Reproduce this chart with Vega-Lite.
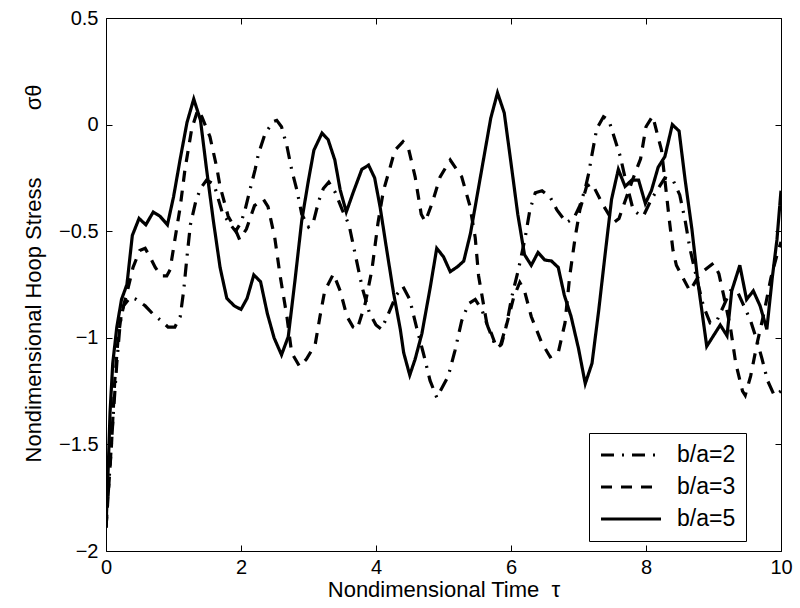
{
"$schema": "https://vega.github.io/schema/vega-lite/v6.json",
"width": 675,
"height": 533,
"autosize": {"type": "none"},
"padding": {"left": 106, "top": 18, "right": 19, "bottom": 57},
"background": "white",
"config": {
  "view": {"stroke": "black", "strokeWidth": 1},
  "font": "Liberation Sans",
  "axis": {"domain": false, "grid": false, "ticks": true, "tickColor": "black", "tickWidth": 1, "tickSize": -6, "labelColor": "black", "labelFont": "Liberation Sans", "labelFontSize": 20, "labelFlush": false, "labelOverlap": false, "titleFont": "Liberation Sans", "titleFontSize": 22, "titleFontWeight": "normal", "titleColor": "black"}
},
"datasets": {
  "curves": [
{"t":0,"v":-1.89,"s":"b/a=5"},{"t":0.035,"v":-1.59,"s":"b/a=5"},{"t":0.06,"v":-1.35,"s":"b/a=5"},{"t":0.1,"v":-1.12,"s":"b/a=5"},{"t":0.16,"v":-0.95,"s":"b/a=5"},{"t":0.23,"v":-0.82,"s":"b/a=5"},{"t":0.31,"v":-0.75,"s":"b/a=5"},{"t":0.39,"v":-0.52,"s":"b/a=5"},{"t":0.49,"v":-0.44,"s":"b/a=5"},{"t":0.59,"v":-0.47,"s":"b/a=5"},{"t":0.7,"v":-0.41,"s":"b/a=5"},{"t":0.8,"v":-0.43,"s":"b/a=5"},{"t":0.91,"v":-0.47,"s":"b/a=5"},{"t":1.0,"v":-0.34,"s":"b/a=5"},{"t":1.1,"v":-0.16,"s":"b/a=5"},{"t":1.2,"v":0.01,"s":"b/a=5"},{"t":1.3,"v":0.12,"s":"b/a=5"},{"t":1.4,"v":0.02,"s":"b/a=5"},{"t":1.49,"v":-0.21,"s":"b/a=5"},{"t":1.59,"v":-0.45,"s":"b/a=5"},{"t":1.69,"v":-0.67,"s":"b/a=5"},{"t":1.79,"v":-0.815,"s":"b/a=5"},{"t":1.9,"v":-0.85,"s":"b/a=5"},{"t":2.0,"v":-0.867,"s":"b/a=5"},{"t":2.09,"v":-0.815,"s":"b/a=5"},{"t":2.19,"v":-0.705,"s":"b/a=5"},{"t":2.29,"v":-0.737,"s":"b/a=5"},{"t":2.39,"v":-0.886,"s":"b/a=5"},{"t":2.49,"v":-1.0,"s":"b/a=5"},{"t":2.6,"v":-1.08,"s":"b/a=5"},{"t":2.7,"v":-0.995,"s":"b/a=5"},{"t":2.8,"v":-0.73,"s":"b/a=5"},{"t":2.9,"v":-0.45,"s":"b/a=5"},{"t":3.0,"v":-0.26,"s":"b/a=5"},{"t":3.08,"v":-0.12,"s":"b/a=5"},{"t":3.2,"v":-0.04,"s":"b/a=5"},{"t":3.29,"v":-0.07,"s":"b/a=5"},{"t":3.39,"v":-0.166,"s":"b/a=5"},{"t":3.47,"v":-0.307,"s":"b/a=5"},{"t":3.56,"v":-0.41,"s":"b/a=5"},{"t":3.66,"v":-0.32,"s":"b/a=5"},{"t":3.79,"v":-0.21,"s":"b/a=5"},{"t":3.89,"v":-0.19,"s":"b/a=5"},{"t":3.98,"v":-0.25,"s":"b/a=5"},{"t":4.06,"v":-0.385,"s":"b/a=5"},{"t":4.16,"v":-0.59,"s":"b/a=5"},{"t":4.26,"v":-0.79,"s":"b/a=5"},{"t":4.36,"v":-0.96,"s":"b/a=5"},{"t":4.41,"v":-1.07,"s":"b/a=5"},{"t":4.5,"v":-1.175,"s":"b/a=5"},{"t":4.58,"v":-1.1,"s":"b/a=5"},{"t":4.68,"v":-0.98,"s":"b/a=5"},{"t":4.8,"v":-0.77,"s":"b/a=5"},{"t":4.9,"v":-0.58,"s":"b/a=5"},{"t":5.0,"v":-0.62,"s":"b/a=5"},{"t":5.1,"v":-0.69,"s":"b/a=5"},{"t":5.21,"v":-0.666,"s":"b/a=5"},{"t":5.3,"v":-0.64,"s":"b/a=5"},{"t":5.4,"v":-0.51,"s":"b/a=5"},{"t":5.5,"v":-0.33,"s":"b/a=5"},{"t":5.6,"v":-0.15,"s":"b/a=5"},{"t":5.7,"v":0.03,"s":"b/a=5"},{"t":5.8,"v":0.149,"s":"b/a=5"},{"t":5.9,"v":0.055,"s":"b/a=5"},{"t":6.0,"v":-0.18,"s":"b/a=5"},{"t":6.1,"v":-0.42,"s":"b/a=5"},{"t":6.2,"v":-0.61,"s":"b/a=5"},{"t":6.3,"v":-0.66,"s":"b/a=5"},{"t":6.4,"v":-0.6,"s":"b/a=5"},{"t":6.5,"v":-0.635,"s":"b/a=5"},{"t":6.6,"v":-0.64,"s":"b/a=5"},{"t":6.7,"v":-0.67,"s":"b/a=5"},{"t":6.79,"v":-0.8,"s":"b/a=5"},{"t":6.89,"v":-0.9,"s":"b/a=5"},{"t":7.0,"v":-1.05,"s":"b/a=5"},{"t":7.1,"v":-1.215,"s":"b/a=5"},{"t":7.2,"v":-1.12,"s":"b/a=5"},{"t":7.3,"v":-0.87,"s":"b/a=5"},{"t":7.39,"v":-0.62,"s":"b/a=5"},{"t":7.49,"v":-0.35,"s":"b/a=5"},{"t":7.59,"v":-0.21,"s":"b/a=5"},{"t":7.69,"v":-0.29,"s":"b/a=5"},{"t":7.79,"v":-0.26,"s":"b/a=5"},{"t":7.89,"v":-0.26,"s":"b/a=5"},{"t":7.99,"v":-0.37,"s":"b/a=5"},{"t":8.08,"v":-0.31,"s":"b/a=5"},{"t":8.18,"v":-0.2,"s":"b/a=5"},{"t":8.28,"v":-0.15,"s":"b/a=5"},{"t":8.39,"v":0.0,"s":"b/a=5"},{"t":8.49,"v":-0.03,"s":"b/a=5"},{"t":8.58,"v":-0.26,"s":"b/a=5"},{"t":8.68,"v":-0.49,"s":"b/a=5"},{"t":8.77,"v":-0.74,"s":"b/a=5"},{"t":8.9,"v":-1.04,"s":"b/a=5"},{"t":9.0,"v":-0.99,"s":"b/a=5"},{"t":9.1,"v":-0.94,"s":"b/a=5"},{"t":9.2,"v":-0.99,"s":"b/a=5"},{"t":9.27,"v":-0.78,"s":"b/a=5"},{"t":9.39,"v":-0.66,"s":"b/a=5"},{"t":9.49,"v":-0.82,"s":"b/a=5"},{"t":9.59,"v":-0.78,"s":"b/a=5"},{"t":9.69,"v":-0.85,"s":"b/a=5"},{"t":9.79,"v":-0.96,"s":"b/a=5"},{"t":9.87,"v":-0.72,"s":"b/a=5"},{"t":9.94,"v":-0.54,"s":"b/a=5"},{"t":10.0,"v":-0.31,"s":"b/a=5"},
{"t":0,"v":-1.89,"s":"b/a=3"},{"t":0.08,"v":-1.51,"s":"b/a=3"},{"t":0.13,"v":-1.2,"s":"b/a=3"},{"t":0.18,"v":-1.0,"s":"b/a=3"},{"t":0.23,"v":-0.885,"s":"b/a=3"},{"t":0.31,"v":-0.79,"s":"b/a=3"},{"t":0.4,"v":-0.67,"s":"b/a=3"},{"t":0.5,"v":-0.59,"s":"b/a=3"},{"t":0.58,"v":-0.58,"s":"b/a=3"},{"t":0.65,"v":-0.62,"s":"b/a=3"},{"t":0.73,"v":-0.67,"s":"b/a=3"},{"t":0.82,"v":-0.71,"s":"b/a=3"},{"t":0.9,"v":-0.71,"s":"b/a=3"},{"t":0.95,"v":-0.68,"s":"b/a=3"},{"t":1.02,"v":-0.54,"s":"b/a=3"},{"t":1.1,"v":-0.385,"s":"b/a=3"},{"t":1.17,"v":-0.21,"s":"b/a=3"},{"t":1.27,"v":-0.02,"s":"b/a=3"},{"t":1.36,"v":0.07,"s":"b/a=3"},{"t":1.42,"v":0.037,"s":"b/a=3"},{"t":1.54,"v":-0.057,"s":"b/a=3"},{"t":1.64,"v":-0.2,"s":"b/a=3"},{"t":1.69,"v":-0.29,"s":"b/a=3"},{"t":1.81,"v":-0.43,"s":"b/a=3"},{"t":1.9,"v":-0.48,"s":"b/a=3"},{"t":1.98,"v":-0.54,"s":"b/a=3"},{"t":2.08,"v":-0.49,"s":"b/a=3"},{"t":2.2,"v":-0.38,"s":"b/a=3"},{"t":2.33,"v":-0.35,"s":"b/a=3"},{"t":2.4,"v":-0.385,"s":"b/a=3"},{"t":2.5,"v":-0.53,"s":"b/a=3"},{"t":2.58,"v":-0.71,"s":"b/a=3"},{"t":2.68,"v":-0.9,"s":"b/a=3"},{"t":2.75,"v":-1.07,"s":"b/a=3"},{"t":2.87,"v":-1.135,"s":"b/a=3"},{"t":2.97,"v":-1.1,"s":"b/a=3"},{"t":3.1,"v":-1.03,"s":"b/a=3"},{"t":3.17,"v":-0.9,"s":"b/a=3"},{"t":3.24,"v":-0.78,"s":"b/a=3"},{"t":3.37,"v":-0.7,"s":"b/a=3"},{"t":3.47,"v":-0.78,"s":"b/a=3"},{"t":3.57,"v":-0.9,"s":"b/a=3"},{"t":3.66,"v":-0.95,"s":"b/a=3"},{"t":3.72,"v":-0.96,"s":"b/a=3"},{"t":3.84,"v":-0.84,"s":"b/a=3"},{"t":3.94,"v":-0.68,"s":"b/a=3"},{"t":4.03,"v":-0.46,"s":"b/a=3"},{"t":4.11,"v":-0.31,"s":"b/a=3"},{"t":4.21,"v":-0.2,"s":"b/a=3"},{"t":4.28,"v":-0.12,"s":"b/a=3"},{"t":4.4,"v":-0.08,"s":"b/a=3"},{"t":4.48,"v":-0.11,"s":"b/a=3"},{"t":4.58,"v":-0.245,"s":"b/a=3"},{"t":4.67,"v":-0.42,"s":"b/a=3"},{"t":4.73,"v":-0.455,"s":"b/a=3"},{"t":4.83,"v":-0.37,"s":"b/a=3"},{"t":4.95,"v":-0.245,"s":"b/a=3"},{"t":5.1,"v":-0.166,"s":"b/a=3"},{"t":5.27,"v":-0.245,"s":"b/a=3"},{"t":5.39,"v":-0.38,"s":"b/a=3"},{"t":5.47,"v":-0.53,"s":"b/a=3"},{"t":5.52,"v":-0.71,"s":"b/a=3"},{"t":5.64,"v":-0.93,"s":"b/a=3"},{"t":5.71,"v":-0.98,"s":"b/a=3"},{"t":5.79,"v":-1.05,"s":"b/a=3"},{"t":5.86,"v":-1.03,"s":"b/a=3"},{"t":5.95,"v":-0.92,"s":"b/a=3"},{"t":6.04,"v":-0.81,"s":"b/a=3"},{"t":6.13,"v":-0.74,"s":"b/a=3"},{"t":6.2,"v":-0.78,"s":"b/a=3"},{"t":6.3,"v":-0.9,"s":"b/a=3"},{"t":6.45,"v":-1.02,"s":"b/a=3"},{"t":6.58,"v":-1.09,"s":"b/a=3"},{"t":6.7,"v":-1.07,"s":"b/a=3"},{"t":6.8,"v":-0.93,"s":"b/a=3"},{"t":6.87,"v":-0.71,"s":"b/a=3"},{"t":6.95,"v":-0.53,"s":"b/a=3"},{"t":7.02,"v":-0.4,"s":"b/a=3"},{"t":7.12,"v":-0.29,"s":"b/a=3"},{"t":7.2,"v":-0.276,"s":"b/a=3"},{"t":7.37,"v":-0.38,"s":"b/a=3"},{"t":7.52,"v":-0.46,"s":"b/a=3"},{"t":7.6,"v":-0.44,"s":"b/a=3"},{"t":7.7,"v":-0.35,"s":"b/a=3"},{"t":7.8,"v":-0.26,"s":"b/a=3"},{"t":7.92,"v":-0.16,"s":"b/a=3"},{"t":8.0,"v":-0.01,"s":"b/a=3"},{"t":8.1,"v":0.04,"s":"b/a=3"},{"t":8.18,"v":-0.06,"s":"b/a=3"},{"t":8.23,"v":-0.12,"s":"b/a=3"},{"t":8.28,"v":-0.26,"s":"b/a=3"},{"t":8.35,"v":-0.46,"s":"b/a=3"},{"t":8.4,"v":-0.59,"s":"b/a=3"},{"t":8.45,"v":-0.66,"s":"b/a=3"},{"t":8.55,"v":-0.72,"s":"b/a=3"},{"t":8.65,"v":-0.78,"s":"b/a=3"},{"t":8.8,"v":-0.7,"s":"b/a=3"},{"t":9.0,"v":-0.65,"s":"b/a=3"},{"t":9.08,"v":-0.7,"s":"b/a=3"},{"t":9.15,"v":-0.8,"s":"b/a=3"},{"t":9.25,"v":-0.95,"s":"b/a=3"},{"t":9.33,"v":-1.12,"s":"b/a=3"},{"t":9.43,"v":-1.25,"s":"b/a=3"},{"t":9.47,"v":-1.27,"s":"b/a=3"},{"t":9.55,"v":-1.18,"s":"b/a=3"},{"t":9.65,"v":-1.02,"s":"b/a=3"},{"t":9.75,"v":-0.88,"s":"b/a=3"},{"t":9.85,"v":-0.72,"s":"b/a=3"},{"t":9.95,"v":-0.6,"s":"b/a=3"},{"t":10.0,"v":-0.55,"s":"b/a=3"},
{"t":0,"v":-1.89,"s":"b/a=2"},{"t":0.06,"v":-1.6,"s":"b/a=2"},{"t":0.11,"v":-1.35,"s":"b/a=2"},{"t":0.16,"v":-1.12,"s":"b/a=2"},{"t":0.21,"v":-0.93,"s":"b/a=2"},{"t":0.26,"v":-0.85,"s":"b/a=2"},{"t":0.36,"v":-0.81,"s":"b/a=2"},{"t":0.45,"v":-0.82,"s":"b/a=2"},{"t":0.58,"v":-0.85,"s":"b/a=2"},{"t":0.7,"v":-0.89,"s":"b/a=2"},{"t":0.82,"v":-0.92,"s":"b/a=2"},{"t":0.92,"v":-0.95,"s":"b/a=2"},{"t":1.02,"v":-0.95,"s":"b/a=2"},{"t":1.1,"v":-0.9,"s":"b/a=2"},{"t":1.15,"v":-0.78,"s":"b/a=2"},{"t":1.2,"v":-0.62,"s":"b/a=2"},{"t":1.25,"v":-0.47,"s":"b/a=2"},{"t":1.33,"v":-0.36,"s":"b/a=2"},{"t":1.4,"v":-0.3,"s":"b/a=2"},{"t":1.49,"v":-0.26,"s":"b/a=2"},{"t":1.6,"v":-0.28,"s":"b/a=2"},{"t":1.72,"v":-0.41,"s":"b/a=2"},{"t":1.82,"v":-0.46,"s":"b/a=2"},{"t":1.92,"v":-0.5,"s":"b/a=2"},{"t":2.0,"v":-0.46,"s":"b/a=2"},{"t":2.06,"v":-0.4,"s":"b/a=2"},{"t":2.13,"v":-0.31,"s":"b/a=2"},{"t":2.21,"v":-0.21,"s":"b/a=2"},{"t":2.26,"v":-0.135,"s":"b/a=2"},{"t":2.36,"v":-0.04,"s":"b/a=2"},{"t":2.48,"v":0.014,"s":"b/a=2"},{"t":2.53,"v":0.02,"s":"b/a=2"},{"t":2.6,"v":-0.01,"s":"b/a=2"},{"t":2.68,"v":-0.1,"s":"b/a=2"},{"t":2.75,"v":-0.21,"s":"b/a=2"},{"t":2.83,"v":-0.31,"s":"b/a=2"},{"t":2.9,"v":-0.42,"s":"b/a=2"},{"t":3.0,"v":-0.48,"s":"b/a=2"},{"t":3.07,"v":-0.46,"s":"b/a=2"},{"t":3.15,"v":-0.36,"s":"b/a=2"},{"t":3.22,"v":-0.3,"s":"b/a=2"},{"t":3.3,"v":-0.27,"s":"b/a=2"},{"t":3.4,"v":-0.32,"s":"b/a=2"},{"t":3.5,"v":-0.4,"s":"b/a=2"},{"t":3.6,"v":-0.47,"s":"b/a=2"},{"t":3.7,"v":-0.62,"s":"b/a=2"},{"t":3.8,"v":-0.77,"s":"b/a=2"},{"t":3.9,"v":-0.88,"s":"b/a=2"},{"t":4.0,"v":-0.94,"s":"b/a=2"},{"t":4.08,"v":-0.96,"s":"b/a=2"},{"t":4.18,"v":-0.89,"s":"b/a=2"},{"t":4.3,"v":-0.8,"s":"b/a=2"},{"t":4.4,"v":-0.76,"s":"b/a=2"},{"t":4.5,"v":-0.82,"s":"b/a=2"},{"t":4.6,"v":-0.95,"s":"b/a=2"},{"t":4.7,"v":-1.07,"s":"b/a=2"},{"t":4.8,"v":-1.2,"s":"b/a=2"},{"t":4.9,"v":-1.28,"s":"b/a=2"},{"t":5.07,"v":-1.18,"s":"b/a=2"},{"t":5.17,"v":-1.06,"s":"b/a=2"},{"t":5.27,"v":-0.92,"s":"b/a=2"},{"t":5.37,"v":-0.84,"s":"b/a=2"},{"t":5.47,"v":-0.82,"s":"b/a=2"},{"t":5.57,"v":-0.87,"s":"b/a=2"},{"t":5.66,"v":-0.95,"s":"b/a=2"},{"t":5.76,"v":-1.03,"s":"b/a=2"},{"t":5.84,"v":-1.04,"s":"b/a=2"},{"t":5.94,"v":-0.93,"s":"b/a=2"},{"t":6.01,"v":-0.81,"s":"b/a=2"},{"t":6.11,"v":-0.68,"s":"b/a=2"},{"t":6.21,"v":-0.53,"s":"b/a=2"},{"t":6.28,"v":-0.4,"s":"b/a=2"},{"t":6.36,"v":-0.32,"s":"b/a=2"},{"t":6.46,"v":-0.31,"s":"b/a=2"},{"t":6.58,"v":-0.34,"s":"b/a=2"},{"t":6.68,"v":-0.4,"s":"b/a=2"},{"t":6.75,"v":-0.43,"s":"b/a=2"},{"t":6.82,"v":-0.46,"s":"b/a=2"},{"t":6.93,"v":-0.44,"s":"b/a=2"},{"t":7.02,"v":-0.38,"s":"b/a=2"},{"t":7.1,"v":-0.3,"s":"b/a=2"},{"t":7.15,"v":-0.23,"s":"b/a=2"},{"t":7.2,"v":-0.14,"s":"b/a=2"},{"t":7.27,"v":-0.02,"s":"b/a=2"},{"t":7.37,"v":0.037,"s":"b/a=2"},{"t":7.45,"v":0.02,"s":"b/a=2"},{"t":7.5,"v":-0.03,"s":"b/a=2"},{"t":7.57,"v":-0.1,"s":"b/a=2"},{"t":7.62,"v":-0.15,"s":"b/a=2"},{"t":7.69,"v":-0.25,"s":"b/a=2"},{"t":7.81,"v":-0.4,"s":"b/a=2"},{"t":7.89,"v":-0.42,"s":"b/a=2"},{"t":7.96,"v":-0.43,"s":"b/a=2"},{"t":8.08,"v":-0.35,"s":"b/a=2"},{"t":8.16,"v":-0.31,"s":"b/a=2"},{"t":8.28,"v":-0.25,"s":"b/a=2"},{"t":8.4,"v":-0.26,"s":"b/a=2"},{"t":8.5,"v":-0.33,"s":"b/a=2"},{"t":8.58,"v":-0.45,"s":"b/a=2"},{"t":8.65,"v":-0.58,"s":"b/a=2"},{"t":8.75,"v":-0.72,"s":"b/a=2"},{"t":8.85,"v":-0.85,"s":"b/a=2"},{"t":8.95,"v":-0.93,"s":"b/a=2"},{"t":9.05,"v":-0.92,"s":"b/a=2"},{"t":9.15,"v":-0.85,"s":"b/a=2"},{"t":9.25,"v":-0.78,"s":"b/a=2"},{"t":9.35,"v":-0.78,"s":"b/a=2"},{"t":9.45,"v":-0.85,"s":"b/a=2"},{"t":9.55,"v":-0.92,"s":"b/a=2"},{"t":9.65,"v":-1.02,"s":"b/a=2"},{"t":9.72,"v":-1.1,"s":"b/a=2"},{"t":9.8,"v":-1.2,"s":"b/a=2"},{"t":9.9,"v":-1.27,"s":"b/a=2"},{"t":10.0,"v":-1.25,"s":"b/a=2"}
  ]
},
"data": {"name": "curves"},
"layer": [
  {
    "mark": {"type": "line", "strokeWidth": 3.2, "color": "black", "strokeCap": "butt", "strokeJoin": "miter", "clip": true},
    "encoding": {
      "x": {"field": "t", "type": "quantitative", "scale": {"domain": [0, 10], "nice": false, "zero": false},
            "axis": {"orient": "bottom", "values": [0, 2, 4, 6, 8, 10], "format": "d", "labelPadding": 12, "title": "Nondimensional Time\u00a0\u00a0τ", "titlePadding": 2}},
      "y": {"field": "v", "type": "quantitative", "scale": {"domain": [-2, 0.5], "nice": false, "zero": false},
            "axis": {"orient": "left", "values": [-2, -1.5, -1, -0.5, 0, 0.5], "format": "~g", "labelPadding": 14, "title": "Nondimensional Hoop Stress\u00a0\u00a0\u00a0\u00a0\u00a0\u00a0\u00a0\u00a0\u00a0\u00a0\u00a0σθ", "titlePadding": 13, "titleY": 255}},
      "strokeDash": {"field": "s", "type": "nominal",
            "scale": {"domain": ["b/a=2", "b/a=3", "b/a=5"], "range": [[13, 8, 2, 8], [11, 9], [1, 0]]},
            "legend": {"orient": "none", "legendX": 483, "legendY": 415, "title": null, "strokeColor": "black", "fillColor": "white", "padding": 10,
                       "symbolType": "M-1,0H5", "symbolSize": 400, "symbolStrokeWidth": 3.2, "symbolStrokeColor": "black",
                       "labelFont": "Liberation Sans", "labelFontSize": 23, "labelColor": "black", "labelOffset": 54, "rowPadding": 8}}
    }
  },
  {
    "mark": {"type": "line", "strokeOpacity": 0},
    "encoding": {
      "x": {"field": "t", "type": "quantitative", "scale": {"domain": [0, 10], "nice": false, "zero": false},
            "axis": {"orient": "top", "values": [0, 2, 4, 6, 8, 10], "labels": false, "title": null}},
      "y": {"field": "v", "type": "quantitative", "scale": {"domain": [-2, 0.5], "nice": false, "zero": false},
            "axis": {"orient": "right", "values": [-2, -1.5, -1, -0.5, 0, 0.5], "labels": false, "title": null}},
      "detail": {"field": "s"}
    }
  }
],
"resolve": {"axis": {"x": "independent", "y": "independent"}}
}
